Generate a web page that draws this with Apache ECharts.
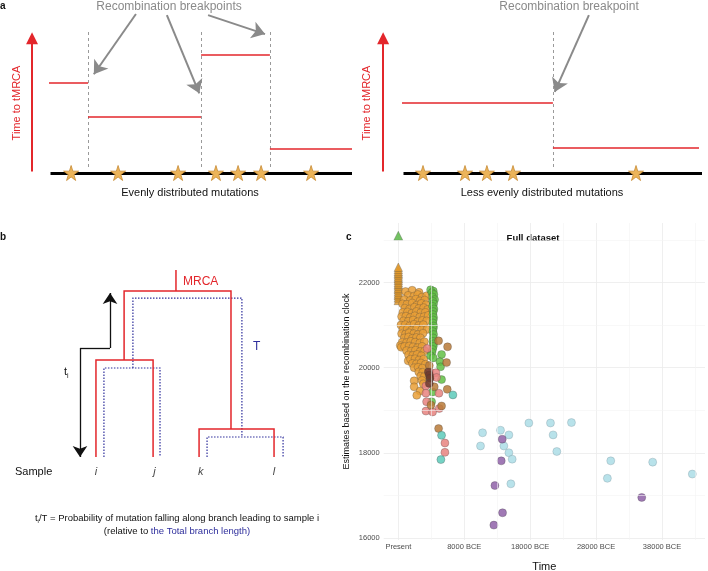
<!DOCTYPE html>
<html><head><meta charset="utf-8">
<script src="https://cdn.jsdelivr.net/npm/echarts@6/dist/echarts.min.js"></script>
<style>html,body{margin:0;padding:0;background:#fff}#c{width:708px;height:571px}</style>
</head><body><div id="c"></div>
<script>
// ---------- Panel a (left): evenly distributed mutations (genome position 0-100, tMRCA 0-100) ----------
const aLeftBreakpoints = [12.9, 50.2, 72.9];
const aLeftTmrca = [[0, 12.9, 63.8], [12.9, 50.2, 39.7], [50.2, 72.9, 83.7], [72.9, 100, 17.0]];
const aLeftMutations = [7.3, 22.8, 42.6, 55.1, 62.4, 70.0, 86.5];
const aLeftPointers = [[[28.7, 112.8], [14.8, 70]], [[38.9, 112], [49.6, 56.5]], [[52.5, 112], [71.3, 98.5]]];
// ---------- Panel a (right): less evenly distributed mutations ----------
const aRightBreakpoints = [50.3];
const aRightTmrca = [[0, 50.3, 49.6], [50.3, 99, 17.7]];
const aRightMutations = [7, 21, 28.3, 37, 78];
const aRightPointers = [[[62.3, 112], [50.9, 57.5]]];
// ---------- Panel b: genealogy ----------
const treeBranches = [
  [[45.7, 100], [45.7, 88.8]],
  [[21, 51.9], [21, 88.8], [71.9, 88.8], [71.9, 15]],
  [[7.6, 0], [7.6, 51.9], [34.8, 51.9], [34.8, 0]],
  [[56.7, 0], [56.7, 15], [92.4, 15], [92.4, 0]]
];
const treeTotalLength = [
  [[25.2, 47.6], [25.2, 85], [77.1, 85], [77.1, 10.7]],
  [[11.4, 0], [11.4, 47.6], [38.1, 47.6], [38.1, 0]],
  [[60.5, 0], [60.5, 10.7], [96.7, 10.7], [96.7, 0]]
];
const treeTi = [[0, 0], [0, 58.3], [14.3, 58.3], [14.3, 87.7]];
const sampleNames = ['i', 'j', 'k', 'l'];
const sampleX = [7.6, 35.5, 57.5, 92.4];

// ---------- Panel c: years before present vs recombination-clock estimate ----------
const xMinorTicks = [5000, 15000, 25000, 35000, 45000];
const yMinorTicks = [17000, 19000, 21000, 23000];
const orangeTriangles = [[0,21580],[0,21640],[0,21690],[0,21730],[0,21780],[0,21830],[0,21870],[0,21920],[0,21960],[0,22000],[0,22050],[0,22090],[0,22130],[0,22180],[0,22220],[0,22260],[0,22310],[0,22360]];
const greenTriangles = [[0,23100]];
const orangeCircles = [
[1100,21790],[2100,21820],[3150,21770],[1500,21700],[2350,21680],[2950,21720],[3600,21660],[4300,21690],
[900,21600],[1800,21580],[2650,21610],[3300,21570],[4000,21590],
[650,21500],[1300,21490],[2100,21520],[2800,21470],[3500,21510],[4200,21480],
[1000,21400],[1700,21380],[2450,21420],[3100,21390],[3850,21410],[4450,21370],
[700,21300],[1400,21310],[2050,21280],[2750,21320],[3400,21290],[4100,21300],
[500,21200],[1150,21210],[1800,21180],[2500,21220],[3250,21190],[3900,21200],[4550,21230],
[800,21100],[1500,21090],[2250,21120],[2950,21080],[3650,21110],[4300,21100],
[400,21000],[1050,21010],[1700,20980],[2400,21020],[3100,20990],[3800,21010],
[700,20900],[1350,20910],[2000,20880],[2800,20920],[3550,20890],[4350,20900],
[500,20800],[1100,20790],[1650,20820],[2350,20800],[3000,20780],[3750,20810],
[900,20700],[1550,20720],[2150,20690],[2750,20710],[3350,20700],
[600,20600],[1250,20590],[1900,20620],[2550,20600],[3250,20580],[3950,20610],
[300,20520],[450,20480],[950,20500],[1650,20510],[2250,20490],[2900,20470],[3600,20500],
[1250,20400],[1950,20390],[2600,20410],[3300,20380],[4000,20400],
[1550,20300],[2200,20290],[2850,20310],[3500,20280],
[1500,20160],[1850,20200],[2550,20210],[3150,20180],[3850,20200],
[2150,20100],[2750,20090],[3450,20110],[4100,20080],
[2400,20000],[3000,20010],[3650,19990],
[3100,19900],[3700,19890],[3400,19800],[3950,19790],
[2400,19690],[3600,19700],[3800,19620],[2400,19550],[3300,19450],[2800,19350]
];
const greenCircles = [
[4900,21830],[5300,21800],[5100,21760],[5400,21720],[5200,21660],[5500,21600],[5250,21560],[5350,21500],
[5200,21440],[5400,21380],[5300,21320],[5250,21250],[5350,21180],[5300,21120],[5250,21050],[5350,20980],
[5300,20920],[5250,20850],[5350,20780],[5300,20700],[5250,20620],[5350,20560],[5300,20500],[5200,20430],
[5100,20360],[4900,20280],[5300,20230],[6560,20310],[6310,20140],[6410,20020],[6560,19720],[4800,19790],
[5200,19430],[5050,19200]
];
const pinkCircles = [[4390,20450],[4800,19900],[5700,19880],[5800,19770],[4190,19570],[4190,19400],[6160,19400],[4290,19200],[4190,18980],[5200,18960],[6210,19040],[7070,18230],[7070,18010]];
const brownCircles = [[6110,20630],[7470,20490],[7320,20120],[5450,19550],[7420,19490],[6560,19100],[4950,19120],[6110,18570],[4700,20050]];
const darkBrownCircles = [[4550,19900],[4700,19830],[4800,19750],[4700,19630]];
const tealCircles = [[8280,19360],[6560,18410],[6460,17840]];
const lightBlueCircles = [[12780,18470],[12470,18160],[15500,18530],[16770,18420],[16010,18160],[16770,18000],[17270,17850],[17070,17270],[19800,18700],[23080,18700],[23480,18420],[24040,18030],[26260,18710],[32220,17810],[31710,17400],[38580,17780],[44590,17500]];
const purpleCircles = [[15760,18320],[15610,17810],[14650,17230],[15810,16590],[14490,16300],[36920,16950]];

const RED = '#E3262B', GREY = '#8a8a8a', BLUE = '#2E2E9C';
const FONT = '"Liberation Sans", Arial, sans-serif';
const STAR = 'path://M50,2 L61,37 L98,37 L68,59 L79,95 L50,73 L21,95 L32,59 L2,37 L39,37 Z';

function hiddenAxis(i, min, max) { return { gridIndex: i, type: 'value', min, max, show: false }; }

function linesSeries(gi, data, lineStyle, extra) {
  return Object.assign({ type: 'lines', coordinateSystem: 'cartesian2d', xAxisIndex: gi, yAxisIndex: gi,
    clip: false, silent: true, lineStyle: Object.assign({ opacity: 1, curveness: 0 }, lineStyle), data }, extra || {});
}

function panelASeries(gi, segs, breaks, muts, pointers) {
  const axisX = gi === 0 ? -5.6 : -6.3;
  return [
    linesSeries(gi, breaks.map(b => ({ coords: [[b, 100], [b, 3.5]] })), { color: '#9a9a9a', width: 1, type: [3, 3] }),
    linesSeries(gi, segs.map(s => ({ coords: [[s[0], s[2]], [s[1], s[2]]] })), { color: RED, width: 1.5 }),
    linesSeries(gi, [{ coords: [[0.5, 0], [100, 0]] }], { color: '#000', width: 3 }),
    linesSeries(gi, [{ coords: [[axisX, 1], [axisX, 95.5]] }], { color: RED, width: 2 },
      { symbol: ['none', 'triangle'], symbolSize: [14, 12] }),
    linesSeries(gi, pointers.map(p => ({ coords: p })), { color: GREY, width: 2 },
      { symbol: ['none', 'arrow'], symbolSize: [10, 13] }),
    { type: 'scatter', xAxisIndex: gi, yAxisIndex: gi, clip: false, silent: true, symbol: STAR, symbolSize: 15,
      itemStyle: { color: '#ECB459', borderColor: '#C78A34', borderWidth: 0.8, opacity: 1 },
      data: muts.map(m => [m, 0]) }
  ];
}

function pts(name, data, color, symbol, size, border) {
  return { name, type: 'scatter', xAxisIndex: 3, yAxisIndex: 3, data, symbol: symbol || 'circle',
    symbolSize: size || 8, silent: true,
    itemStyle: { color, opacity: 0.85, borderColor: border || 'rgba(60,60,60,0.55)', borderWidth: 0.6 } };
}

const series = [
  ...panelASeries(0, aLeftTmrca, aLeftBreakpoints, aLeftMutations, aLeftPointers),
  ...panelASeries(1, aRightTmrca, aRightBreakpoints, aRightMutations, aRightPointers),
  linesSeries(2, treeTotalLength.map(c => ({ coords: c })), { color: BLUE, width: 1.2, type: [1.5, 1.5] }, { polyline: true }),
  linesSeries(2, treeBranches.map(c => ({ coords: c })), { color: RED, width: 1.5 }, { polyline: true }),
  linesSeries(2, [{ coords: [treeTi[1], treeTi[2]] }], { color: '#111', width: 1.3 }),
  linesSeries(2, [{ coords: [treeTi[1], treeTi[0]] }], { color: '#111', width: 1.3 },
    { symbol: ['none', 'arrow'], symbolSize: [7, 11] }),
  linesSeries(2, [{ coords: [treeTi[2], treeTi[3]] }], { color: '#111', width: 1.3 },
    { symbol: ['none', 'arrow'], symbolSize: [7, 11] }),
  { type: 'scatter', xAxisIndex: 2, yAxisIndex: 2, clip: false, silent: true, symbolSize: 0,
    data: sampleX.map((x, k) => ({ value: [x, -8], name: sampleNames[k] })),
    label: { show: true, position: 'inside', formatter: p => p.name,
      fontFamily: FONT, fontStyle: 'italic', fontSize: 11, color: '#111' } },
  { type: 'scatter', xAxisIndex: 3, yAxisIndex: 3, data: [], silent: true, z: 1,
    markLine: { silent: true, symbol: 'none', animation: false, label: { show: false },
      lineStyle: { color: '#f3f3f3', width: 0.6, type: 'solid' },
      data: [...xMinorTicks.map(v => ({ xAxis: v })), ...yMinorTicks.map(v => ({ yAxis: v }))] } },
  pts('orangeTri', orangeTriangles, '#E39A2C', 'triangle', 8.5),
  pts('orange', orangeCircles, '#E99F36'),
  pts('green', greenCircles, '#62BF45'),
  pts('pink', pinkCircles, '#E7837F'),
  pts('brown', brownCircles, '#B87A38'),
  pts('darkbrown', darkBrownCircles, '#6E3B2D'),
  pts('teal', tealCircles, '#5CCABA'),
  pts('lightblue', lightBlueCircles, '#ABDDE6', 'circle', 8, 'rgba(120,140,150,0.6)'),
  pts('purple', purpleCircles, '#8F62A8'),
  pts('greenTri', greenTriangles, '#5CB848', 'triangle', 9)
];

function txt(x, y, text, opt) {
  return { type: 'text', x, y, silent: true,
    style: Object.assign({ text, font: '10px ' + FONT, fill: '#111', textAlign: 'center', textVerticalAlign: 'middle' }, opt || {}) };
}

const graphic = [
  txt(0, 6, 'a', { font: 'bold 10px ' + FONT, textAlign: 'left' }),
  txt(169, 7, 'Recombination breakpoints', { font: '12px ' + FONT, fill: GREY }),
  txt(190, 193, 'Evenly distributed mutations', { font: '11px ' + FONT }),
  Object.assign(txt(17, 103, 'Time to tMRCA', { font: '11px ' + FONT, fill: RED }), { rotation: Math.PI / 2 }),
  txt(569, 7, 'Recombination breakpoint', { font: '12px ' + FONT, fill: GREY }),
  txt(542, 193, 'Less evenly distributed mutations', { font: '11px ' + FONT }),
  Object.assign(txt(367, 103, 'Time to tMRCA', { font: '11px ' + FONT, fill: RED }), { rotation: Math.PI / 2 }),
  txt(0, 237, 'b', { font: 'bold 10px ' + FONT, textAlign: 'left' }),
  txt(346, 237, 'c', { font: 'bold 10px ' + FONT, textAlign: 'left' }),
  txt(183, 282, 'MRCA', { font: '12px ' + FONT, fill: RED, textAlign: 'left' }),
  txt(253, 347, 'T', { font: '12px ' + FONT, fill: BLUE, textAlign: 'left' }),
  { type: 'text', x: 64, y: 372, silent: true,
    style: { text: '{t|t}{s|i}', textAlign: 'left', textVerticalAlign: 'middle',
      rich: { t: { font: '11px ' + FONT, fill: '#111' }, s: { font: '7px ' + FONT, fill: '#111', padding: [8, 0, 0, 0] } } } },
  txt(15, 472, 'Sample', { font: '11px ' + FONT, textAlign: 'left' }),
  { type: 'text', x: 177, y: 518, silent: true,
    style: { text: '{a|t}{s|i}{a|/T = Probability of mutation falling along branch leading to sample i}',
      textAlign: 'center', textVerticalAlign: 'middle',
      rich: { a: { font: '9.5px ' + FONT, fill: '#111' }, s: { font: '6px ' + FONT, fill: '#111', padding: [6, 0, 0, 0] } } } },
  { type: 'text', x: 177, y: 531, silent: true,
    style: { text: '{a|(relative to }{b|the Total branch length)}', textAlign: 'center', textVerticalAlign: 'middle',
      rich: { a: { font: '9.5px ' + FONT, fill: '#111' }, b: { font: '9.5px ' + FONT, fill: BLUE } } } },
  txt(533, 238, 'Full dataset', { font: 'bold 9.5px ' + FONT })
];

const chart = echarts.init(document.getElementById('c'), null, { renderer: 'canvas' });
chart.setOption({
  animation: false,
  backgroundColor: '#ffffff',
  grid: [
    { left: 49, top: 32, width: 303, height: 141, outerBoundsMode: 'none', containLabel: false },
    { left: 402, top: 32, width: 300, height: 141, outerBoundsMode: 'none', containLabel: false },
    { left: 80, top: 270, width: 210, height: 187, outerBoundsMode: 'none', containLabel: false },
    { left: 383.7, top: 223, width: 321.3, height: 317, outerBoundsMode: 'none', containLabel: false }
  ],
  xAxis: [
    hiddenAxis(0, 0, 100), hiddenAxis(1, 0, 100), hiddenAxis(2, 0, 100),
    { gridIndex: 3, type: 'value', min: -2215, max: 46515, splitNumber: 5,
      axisLine: { show: false }, axisTick: { show: false },
      axisLabel: { showMinLabel: false, showMaxLabel: false, fontSize: 7.5, color: '#4d4d4d', fontFamily: FONT, margin: 3,
        formatter: v => v === 0 ? 'Present' : (v - 2000) + ' BCE' },
      splitLine: { show: true, showMinLine: false, showMaxLine: false, lineStyle: { color: '#ebebeb', width: 0.8 } },
      name: 'Time', nameLocation: 'middle', nameGap: 21,
      nameTextStyle: { fontSize: 11, color: '#111', fontFamily: FONT } }
  ],
  yAxis: [
    hiddenAxis(0, 0, 100), hiddenAxis(1, 0, 100), hiddenAxis(2, 0, 100),
    { gridIndex: 3, type: 'value', min: 15950, max: 23400, splitNumber: 4,
      axisLine: { show: false }, axisTick: { show: false },
      axisLabel: { showMinLabel: false, showMaxLabel: false, fontSize: 7.5, color: '#4d4d4d', fontFamily: FONT, margin: 4,
        formatter: v => String(v) },
      splitLine: { show: true, showMinLine: false, showMaxLine: false, lineStyle: { color: '#ebebeb', width: 0.8 } },
      name: 'Estimates based on the recombination clock', nameLocation: 'middle', nameGap: 33,
      nameTextStyle: { fontSize: 9, color: '#111', fontFamily: FONT } }
  ],
  series,
  graphic
});
</script></body></html>
